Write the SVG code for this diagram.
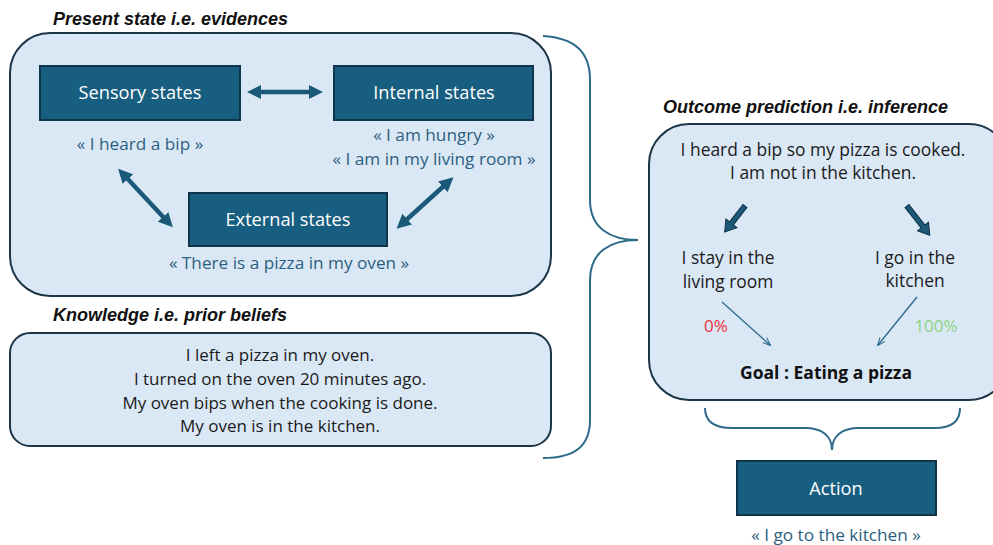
<svg xmlns="http://www.w3.org/2000/svg" width="993" height="545" viewBox="0 0 993 545">
<defs>
<style>
text{font-family:"Open Sans","Noto Sans",sans-serif;}
.title{font-family:"Liberation Sans",Arial,sans-serif;font-weight:bold;font-style:italic;font-size:18px;fill:#111;}
.panel{fill:#dae8f6;stroke:#1c3648;stroke-width:2;}
.node{fill:#175e80;stroke:#10344a;stroke-width:2;}
.nt{fill:#fff;font-size:18.2px;text-anchor:middle;}
.q{fill:#2d5f80;font-size:17.2px;text-anchor:middle;}
.b{fill:#1a1a1a;font-size:17.4px;text-anchor:middle;}
.k{fill:#1a1a1a;font-size:17px;text-anchor:middle;}
.brace{fill:none;stroke:#2e6a8a;stroke-width:2;}
.dbl{stroke:#1a5a78;stroke-width:4.5;fill:none;}
.thin{stroke:#2e6a8a;stroke-width:1.3;fill:none;}
</style>
<marker id="hd" viewBox="0 0 10 10" refX="3" refY="5" markerWidth="3.2" markerHeight="3.4" orient="auto-start-reverse" markerUnits="strokeWidth">
<path d="M0,0 L10,5 L0,10 Z" fill="#1a5a78"/>
</marker>
<marker id="th" viewBox="0 0 10 10" refX="9" refY="5" markerWidth="8" markerHeight="8" orient="auto" markerUnits="userSpaceOnUse">
<path d="M0,1 L10,5 L0,9" fill="none" stroke="#2e6a8a" stroke-width="1.3"/>
</marker>
</defs>

<g id="present-state">
<text class="title" x="53" y="25">Present state i.e. evidences</text>
<rect class="panel" x="10" y="33" width="541" height="263" rx="40"/>
</g>
<g id="sensory">
<rect class="node" x="40" y="66" width="200" height="54"/>
<text class="nt" x="140" y="99">Sensory states</text>
<text class="q" x="140" y="150">« I heard a bip »</text>
</g>
<g id="internal">
<rect class="node" x="334" y="66" width="199" height="54"/>
<text class="nt" x="434" y="99">Internal states</text>
<text class="q" x="434" y="141">« I am hungry »</text>
<text class="q" x="434" y="165">« I am in my living room »</text>
</g>
<g id="external">
<rect class="node" x="189" y="193" width="198" height="53"/>
<text class="nt" x="288" y="226">External states</text>
<text class="q" x="289" y="269">« There is a pizza in my oven »</text>
</g>

<g id="knowledge">
<text class="title" x="53" y="321">Knowledge i.e. prior beliefs</text>
<rect class="panel" x="10" y="333" width="541" height="113" rx="20"/>
<text class="k" x="280" y="361">I left a pizza in my oven.</text>
<text class="k" x="280" y="385">I turned on the oven 20 minutes ago.</text>
<text class="k" x="280" y="409">My oven bips when the cooking is done.</text>
<text class="k" x="280" y="432">My oven is in the kitchen.</text>
</g>

<g id="outcome">
<text class="title" x="663" y="113">Outcome prediction i.e. inference</text>
<rect class="panel" x="649" y="124" width="360" height="276" rx="40"/>
<text class="b" x="823" y="156">I heard a bip so my pizza is cooked.</text>
<text class="b" x="823" y="179">I am not in the kitchen.</text>
<text class="b" x="728" y="264">I stay in the</text>
<text class="b" x="728" y="288">living room</text>
<text class="b" x="915" y="264">I go in the</text>
<text class="b" x="915" y="287">kitchen</text>
<text x="716" y="332" style="fill:#f0303a;font-size:17px;text-anchor:middle;">0%</text>
<text x="936" y="332" style="fill:#8fd27e;font-size:17px;text-anchor:middle;">100%</text>
<text x="826" y="379" style="fill:#111;font-size:17.5px;font-weight:bold;text-anchor:middle;">Goal : Eating a pizza</text>
</g>

<g id="action">
<rect class="node" x="737" y="461" width="199" height="54"/>
<text class="nt" x="836" y="495">Action</text>
<text class="q" x="836" y="541">« I go to the kitchen »</text>
</g>

<g id="connectors">
<line class="dbl" x1="257" y1="92" x2="313" y2="92" marker-start="url(#hd)" marker-end="url(#hd)"/>
<line class="dbl" x1="125" y1="176" x2="166" y2="220" marker-start="url(#hd)" marker-end="url(#hd)"/>
<line class="dbl" x1="446" y1="184" x2="404" y2="222" marker-start="url(#hd)" marker-end="url(#hd)"/>
<g fill="#1c5878" stroke="#0f2f44" stroke-width="1">
<path transform="translate(745,206) rotate(128)" d="M0,-2.5 L22,-2.5 L22,-7 L33,0 L22,7 L22,2.5 L0,2.5 Z"/>
<path transform="translate(907,206) rotate(52)" d="M0,-2.5 L26,-2.5 L26,-7 L37,0 L26,7 L26,2.5 L0,2.5 Z"/>
</g>
<line class="thin" x1="722" y1="302" x2="770" y2="345" marker-end="url(#th)"/>
<line class="thin" x1="917" y1="297" x2="878" y2="345" marker-end="url(#th)"/>
<path class="brace" d="M543,36 C575,38 590,52 590,80 L590,200 C590,228 610,240 638,240 C610,240 590,252 590,280 L590,420 C590,446 575,458 543,458"/>
<path class="brace" d="M705,408 C705,420 712,428 732,428 L805,428 C822,428 832,436 832,450 C832,436 842,428 859,428 L935,428 C953,428 960,420 960,408"/>
</g>
</svg>
